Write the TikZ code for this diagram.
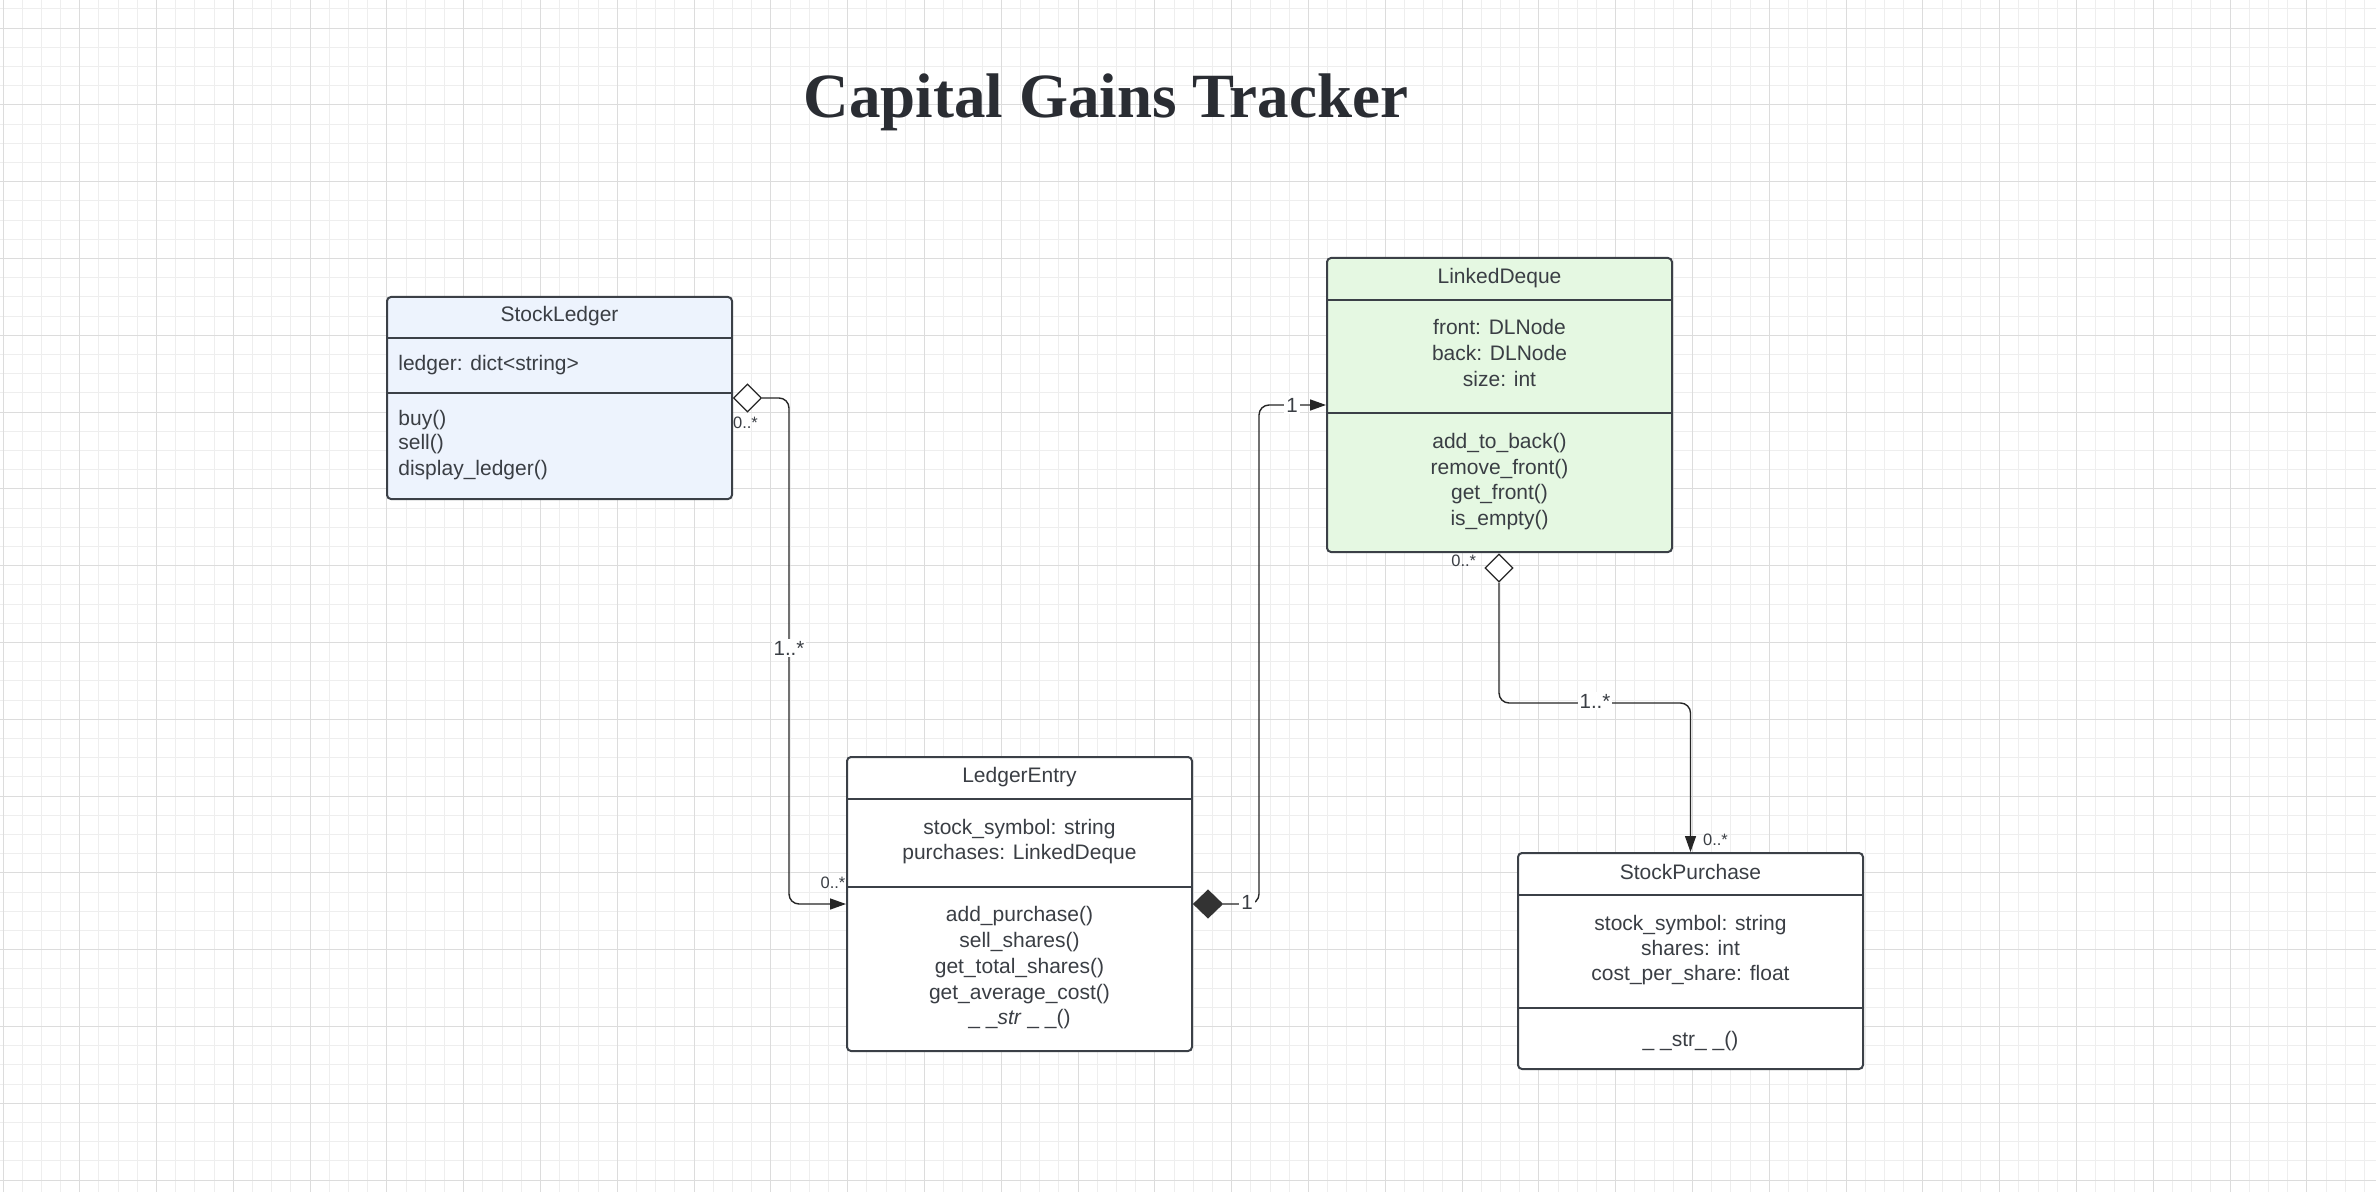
\documentclass[tikz,border=0pt]{standalone}
\usepackage{fontspec}
\setmainfont{Liberation Sans}
\newfontfamily\titlefont{Liberation Serif}
\usetikzlibrary{arrows.meta,shapes.geometric}
\definecolor{ink}{HTML}{3A3E44}
\definecolor{titleink}{HTML}{2A2D33}
\definecolor{edge}{HTML}{3B4047}
\definecolor{ledgerblue}{HTML}{EDF3FD}
\definecolor{dequegreen}{HTML}{E5F8E2}
\definecolor{gridmin}{HTML}{EEEEEE}
\definecolor{gridmaj}{HTML}{DCDCDC}
\tikzset{
  classbox/.style={draw=edge, line width=1pt, rounded corners=2pt, minimum width=172.5pt, inner sep=0pt},
  divider/.style={draw=edge, line width=1pt},
  member/.style={text=ink, font=\fontsize{10.5}{12.75}\selectfont, inner sep=0pt, anchor=base},
  mult/.style={text=ink, font=\fontsize{8.25}{10}\selectfont, inner sep=0pt},
  role/.style={text=ink, fill=white, font=\fontsize{10.25}{11}\selectfont, inner sep=1pt},
  conn/.style={draw=black!85, line width=0.7pt, rounded corners=5pt},
  hollowdia/.style={diamond, draw=black!85, fill=white, line width=0.6pt, minimum width=14pt, minimum height=14pt, inner sep=0pt},
  soliddia/.style={diamond, draw=black!80, fill=black!80, line width=0.6pt, minimum width=14.5pt, minimum height=14pt, inner sep=0pt}
}
\begin{document}
\begin{tikzpicture}[x=0.5pt,y=-0.5pt,>={Triangle[length=8pt,width=5.5pt]}]
                \useasboundingbox (0,0) rectangle (2376,1192);
                \fill[white] (0,0) rectangle (2376,1192);
                % grid
                \foreach \i in {0,...,123}{
                  \pgfmathsetmacro\gx{round(2.5+19.2*\i)+0.5}
                  \draw[gridmin, line width=0.5pt] (\gx,0) -- (\gx,1192);}
                \foreach \j in {0,...,61}{
                  \pgfmathsetmacro\gy{round(8.4+19.2*\j)+0.5}
                  \draw[gridmin, line width=0.5pt] (0,\gy) -- (2376,\gy);}
                \foreach \i in {0,4,...,120}{
                  \pgfmathsetmacro\gx{round(2.5+19.2*\i)+0.5}
                  \draw[gridmaj, line width=0.5pt] (\gx,0) -- (\gx,1192);}
                \foreach \j in {1,5,...,61}{
                  \pgfmathsetmacro\gy{round(8.4+19.2*\j)+0.5}
                  \draw[gridmaj, line width=0.5pt] (0,\gy) -- (2376,\gy);}

                \node[text=titleink, anchor=base, inner sep=0pt,
                  font=\titlefont\fontsize{31.5}{36}\selectfont\bfseries] (title) at (1106,118) {Capital Gains Tracker};

                % classes
                \node[classbox, fill=ledgerblue, minimum height=101pt] (Ledger) at (559.5,398) {};
                \node[classbox, fill=white, minimum height=147pt] (Entry) at (1019.5,904) {};
                \node[classbox, fill=dequegreen, minimum height=147pt] (Deque) at (1499.5,405) {};
                \node[classbox, fill=white, minimum height=108pt] (Purchase) at (1690.5,961) {};

                \draw[divider] (387,337.7) -- (732,337.7);
                \draw[divider] (387,393.3) -- (732,393.3);
                \draw[divider] (847,799) -- (1192,799);
                \draw[divider] (847,887) -- (1192,887);
                \draw[divider] (1327,300) -- (1672,300);
                \draw[divider] (1327,413.3) -- (1672,413.3);
                \draw[divider] (1518,895) -- (1863,895);
                \draw[divider] (1518,1007.7) -- (1863,1007.7);

                \node[member] (Ledger_name) at (559.5,322) {StockLedger};
                \node[member, anchor=base west] (Ledger_attr) at (398,370.5) {ledger: dict<string>};
                \foreach \t [count=\i from 0] in {buy(), sell(), display\_ledger()}
                  \node[member, anchor=base west] at (398,425+25*\i) {\t};

                \node[member] (Entry_name) at (1019.5,782) {LedgerEntry};
                \foreach \t [count=\i from 0] in {stock\_symbol: string, purchases: LinkedDeque}
                  \node[member] at (1019.5,834+25*\i) {\t};
                \foreach \t [count=\i from 0] in {add\_purchase(), sell\_shares(), get\_total\_shares(),
                    get\_average\_cost(), {\_ \_\textit{str} \_ \_()}}
                  \node[member] at (1019.5,921.7+25.8*\i) {\t};

                \node[member] (Deque_name) at (1499.5,283.3) {LinkedDeque};
                \foreach \t [count=\i from 0] in {front: DLNode, back: DLNode, size: int}
                  \node[member] at (1499.5,335+25.8*\i) {\t};
                \foreach \t [count=\i from 0] in {add\_to\_back(), remove\_front(), get\_front(), is\_empty()}
                  \node[member] at (1499.5,448.3+25.8*\i) {\t};

                \node[member] (Purchase_name) at (1690.5,879) {StockPurchase};
                \foreach \t [count=\i from 0] in {stock\_symbol: string, shares: int, cost\_per\_share: float}
                  \node[member] at (1690.5,930+25.4*\i) {\t};
                \node[member] (Purchase_str) at (1690.5,1046) {\_ \_str\_ \_()};

                % associations
                \node[hollowdia] (Ledger_dia) at (747.5,398) {};
                \node[soliddia] (Entry_dia) at (1208,904) {};
                \node[hollowdia] (Deque_dia) at (1499,568) {};
                \coordinate (bend) at (1690.5,703);

                \draw[conn,->] (Ledger_dia.east) -| (789,904) -- (Entry.west);
                \draw[conn,->] (Entry_dia.east) -| (1259,405) -- (Deque.west);
                \draw[conn,->] (Deque_dia.south) |- (bend) -- (Purchase.north);

                \node[role] (m1) at (789,648) {1..*};
                \node[role] (m2) at (1247,902) {1};
                \node[role] (m3) at (1292,405) {1};
                \node[role] (m4) at (1595,701) {1..*};
                \node[mult] (m5) at (745.5,423) {0..*};
                \node[mult] (m6) at (833,883) {0..*};
                \node[mult] (m7) at (1463.7,561) {0..*};
                \node[mult] (m8) at (1715.5,840) {0..*};
            \end{tikzpicture}
\end{document}
